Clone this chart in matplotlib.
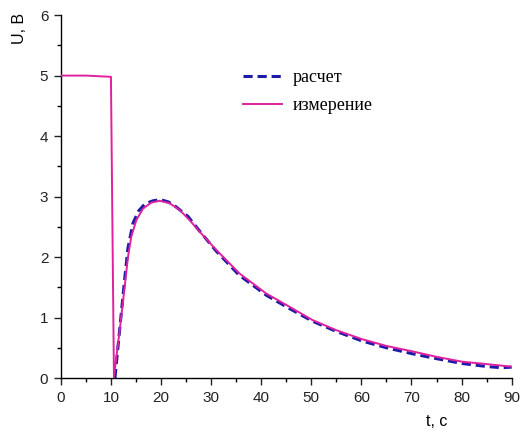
import matplotlib

matplotlib.use("Agg")
import matplotlib.pyplot as plt
from matplotlib.ticker import MultipleLocator

# measured signal (solid)
t_meas = [0, 5, 10.0, 10.6, 11.75, 12.74, 13.4, 14.07, 15.07, 16.4, 18.06, 19.7,
          21.7, 23.7, 25.7, 27.7, 31.0, 35.64, 40.95, 45.6, 50.2, 55.0, 60.2,
          65.0, 70.2, 75.0, 80.1, 85.0, 89.7]
u_meas = [5.0, 5.0, 4.98, 0.02, 0.79, 1.51, 2.0, 2.34, 2.61, 2.80, 2.90, 2.93,
          2.89, 2.78, 2.61, 2.42, 2.12, 1.73, 1.40, 1.18, 0.96, 0.79, 0.64,
          0.53, 0.44, 0.35, 0.27, 0.23, 0.19]

# calculated signal (dashed)
t_calc = [10.8, 11.8, 12.7, 13.4, 14.4, 15.5, 16.8, 18.4, 19.9, 21.5, 23.0, 25.4,
          27.5, 31.0, 35.6, 41.0, 45.6, 50.2, 55.0, 60.2, 65.0, 70.2, 75.0,
          80.1, 85.0, 88.0, 90.0]
u_calc = [0.0, 0.85, 1.6, 2.15, 2.56, 2.76, 2.88, 2.93, 2.95, 2.91, 2.83, 2.67,
          2.45, 2.1, 1.7, 1.37, 1.15, 0.94, 0.77, 0.61, 0.5, 0.40, 0.32,
          0.24, 0.19, 0.17, 0.18]

fig = plt.figure(figsize=(5.2, 4.32), dpi=100)
ax = fig.add_axes([0.117, 0.125, 0.867, 0.84])

ax.plot(t_calc, u_calc, color="#1c1ca8", lw=2.2, ls=(0, (3, 1.6)), label="расчет", zorder=2)
ax.plot(t_meas, u_meas, color="#e0209f", lw=1.4, label="измерение", zorder=3)

ax.set_xlim(0, 90)
ax.set_ylim(0, 6)
ax.xaxis.set_major_locator(MultipleLocator(10))
ax.xaxis.set_minor_locator(MultipleLocator(5))
ax.yaxis.set_major_locator(MultipleLocator(1))
ax.yaxis.set_minor_locator(MultipleLocator(0.5))
for side in ("top", "right"):
    ax.spines[side].set_visible(False)
for side in ("left", "bottom"):
    ax.spines[side].set_linewidth(1.0)
ax.tick_params(which="major", direction="out", length=5, width=1.0, pad=4,
               labelsize=11, colors="#222222")
ax.tick_params(which="minor", direction="out", length=3, width=1.0)
for lab in ax.get_xticklabels() + ax.get_yticklabels():
    lab.set_family("Liberation Sans")

fig.text(0.037, 0.935, "U, B", rotation=90, fontsize=11.5, family="Liberation Sans",
         ha="center", va="center")
fig.text(0.84, 0.008, "t, c", fontsize=11.5, family="Liberation Sans", ha="center", va="bottom")

leg = ax.legend(loc="upper left", bbox_to_anchor=(0.367, 0.895), frameon=False,
                prop={"family": "Liberation Serif", "size": 13}, handlelength=2.2,
                handletextpad=0.6, labelspacing=0.6)

fig.savefig("out.png", dpi=100)
